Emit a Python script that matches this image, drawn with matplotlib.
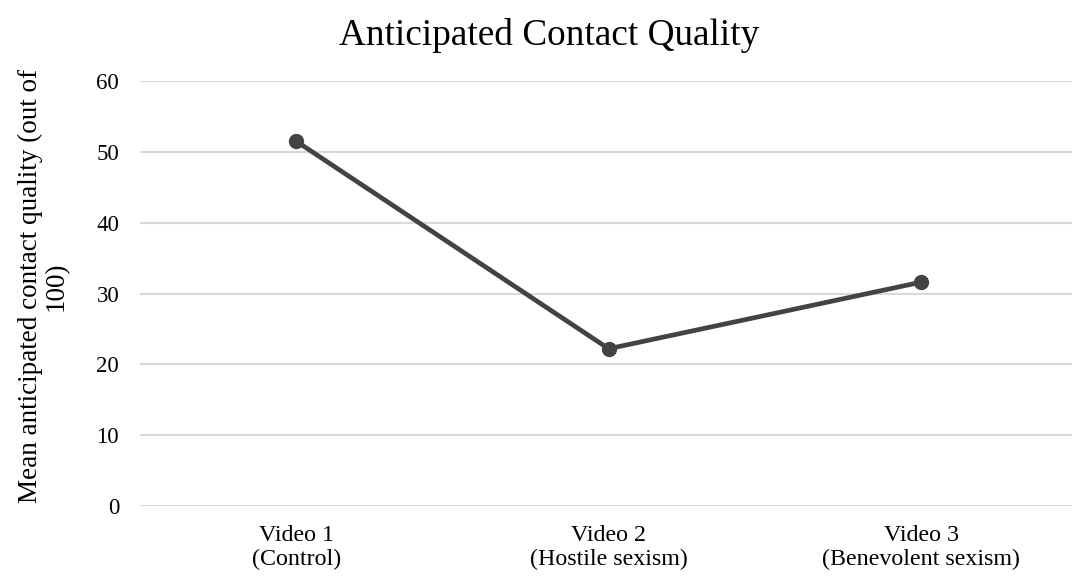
import matplotlib
matplotlib.use("Agg")
import matplotlib.pyplot as plt

# Mean anticipated contact quality per condition
conditions = ["Video 1\n(Control)", "Video 2\n(Hostile sexism)", "Video 3\n(Benevolent sexism)"]
means = [51.5, 22.2, 31.6]
y_ticks = [0, 10, 20, 30, 40, 50, 60]

plt.rcParams['font.family'] = ['Liberation Serif', 'DejaVu Serif']

fig = plt.figure(figsize=(10.72, 5.77), dpi=100)
ax = fig.add_axes([140 / 1072, 71 / 577, 932 / 1072, 425 / 577])

x = list(range(len(conditions)))
ax.plot(x, means, color='#434343', linewidth=3.4, marker='o', markersize=10,
        solid_capstyle='round', zorder=3)

ax.set_xlim(-0.5, 2.483)
ax.set_ylim(0, 60)
ax.set_yticks(y_ticks)
ax.set_xticks(x)
ax.set_xticklabels(conditions, fontsize=17.3, linespacing=1.15)
ax.tick_params(axis='y', labelsize=16.5, length=0, pad=15)
ax.tick_params(axis='x', length=0, pad=14)

ax.grid(axis='y', color='#d9d9d9', linewidth=1.5)
ax.set_axisbelow(True)
for s in ax.spines.values():
    s.set_visible(False)

ax.set_ylabel('Mean anticipated contact quality (out of\n100)', fontsize=19.5,
              linespacing=1.0)
ax.yaxis.set_label_coords(-0.077, 0.518)

fig.text(549 / 1072, 532 / 577, 'Anticipated Contact Quality', fontsize=26.8,
         ha='center', va='baseline')

fig.savefig('out.png', dpi=100)
